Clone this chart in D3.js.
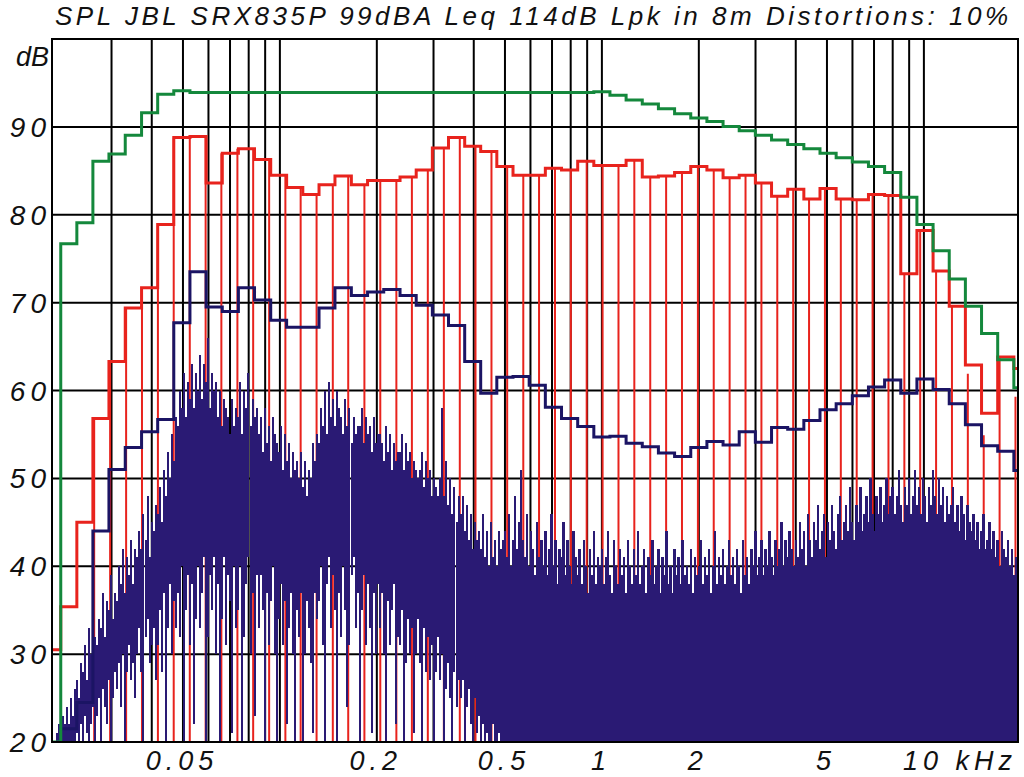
<!DOCTYPE html>
<html><head><meta charset="utf-8">
<script src="https://cdn.jsdelivr.net/npm/d3@7"></script>
<style>html,body{margin:0;padding:0;background:#fff;}svg{display:block;}</style>
</head><body>
<svg id="chart" width="1024" height="777"></svg>
<script>
// ---------------- data ----------------
const titleText = "SPL JBL SRX835P 99dBA Leq 114dB Lpk in 8m Distortions: 10%";
const yUnit = "dB";
const yTicks = [20, 30, 40, 50, 60, 70, 80, 90];
const xTickKHz = [0.05, 0.2, 0.5, 1, 2, 5, 10];
const xTickLabels = ["0.05", "0.2", "0.5", "1", "2", "5", "10 kHz"];
const gridHz = [30,40,50,60,70,80,90,100,200,300,400,500,600,700,800,900,
  1000,2000,3000,4000,5000,6000,7000,8000,9000,10000];

// 1/6-octave band centres (Hz)
const bandHz = [19.7,22.1,24.8,27.8,31.2,35.1,39.4,44.2,49.6,55.7,62.5,70.2,78.7,88.4,99.2,
  111,125,140,157,177,198,223,250,281,315,354,397,445,500,561,630,707,794,891,
  1000,1122,1260,1414,1587,1782,2000,2245,2520,2828,3175,3564,4000,4490,5040,5657,
  6350,7127,8000,8980,10079,11314,12699,14254,16000,17959,20159];

const greenDb = [20,76.7,79.1,86.1,86.9,89.05,91.6,93.7,94.1,93.9,
  93.9,93.9,93.9,93.9,93.9,93.9,93.9,93.9,93.9,93.9,
  93.9,93.9,93.9,93.9,93.9,93.9,93.9,93.9,93.9,93.9,
  93.9,93.9,93.9,93.9,94.0,93.6,93.05,92.6,92.05,91.5,
  91.0,90.6,90.05,89.55,89.05,88.5,88.0,87.5,87.0,86.5,
  86.0,85.5,84.8,82.0,78.9,75.9,72.7,69.6,66.5,63.5,60.3];

const redDb = [30.5,35.4,45.0,56.8,63.3,69.4,71.7,78.9,88.8,88.9,
  83.6,87.0,87.5,86.3,84.5,83.1,82.3,83.4,84.4,83.4,
  83.9,83.9,84.3,85.1,87.6,88.8,87.8,87.2,85.5,84.5,
  84.5,85.3,85.1,86.1,85.6,85.6,86.2,84.3,84.4,84.8,
  85.5,85.1,84.2,84.5,83.6,82.1,82.9,81.8,83.0,81.8,
  81.7,82.3,82.2,73.3,78.2,73.6,69.6,62.9,57.4,63.8,62.5];

const blueDb = [null,21.5,24.5,44.0,51.0,53.5,55.3,56.7,67.7,73.5,
  69.5,69.0,71.7,70.3,68.0,67.2,67.2,69.4,71.7,70.8,
  71.2,71.5,70.8,69.7,68.6,67.4,63.3,59.7,61.5,61.6,
  60.6,58.1,56.8,55.9,54.7,54.8,54.0,53.6,52.9,52.5,
  53.5,54.2,53.8,55.3,54.1,55.8,55.6,56.6,57.8,58.5,
  59.4,60.4,61.2,59.7,61.3,60.1,58.5,56.1,53.7,53.1,50.9];

const toneHz = [26.5,29.7,33.3,37.3,41.8,46.8,52.5,58.8,65.8,73.8,82.6,92.6,104,116,130,146,163,183,205,230,
  257,288,323,362,405,454,508,570,638,715,801,897,1005,1126,1261,1413,1583,1773,1987,2225,
  2493,2793,3129,3505,3927,4399,4928,5521,6185,6929,7762,8696,9739,10911,12222,13692,15338,17183,19250];
const toneDb = [56.8,63.3,69.4,71.7,78.9,88.8,88.9,88.9,87.0,87.5,
  87.5,86.3,84.5,83.1,82.3,83.4,84.4,83.4,83.9,83.9,
  84.3,85.1,87.6,88.8,87.8,87.2,85.5,84.5,84.5,85.3,
  85.1,86.1,85.6,85.6,86.2,84.3,84.4,84.8,85.5,85.1,
  84.2,84.5,83.6,82.1,82.9,81.8,83.0,81.8,81.7,82.3,
  82.2,73.3,78.2,73.6,69.6,61.9,54.9,63.8,59.3];

// FFT spectrum, low part: per display column max / min level
const specLowHz = [20.26,20.56,20.86,21.16,21.47,21.78,22.10,22.42,22.75,23.08,23.41,23.75,24.10,24.45,24.80,25.16,25.53,25.90,26.28,26.66,27.05,27.44,27.84,28.25,28.66,29.07,29.50,29.92,30.36,30.80,
  31.25,31.70,32.17,32.63,33.11,33.59,34.08,34.58,35.08,35.59,36.11,36.63,37.16,37.70,38.25,38.81,39.37,39.95,40.53,41.12,41.71,42.32,42.94,43.56,44.19,44.84,45.49,46.15,46.82,47.50,48.19,48.90,49.61,50.33,51.06,51.80,52.56,53.32,54.10,54.88,55.68,56.49,57.31,58.15,58.99,59.85,60.72,61.60,
  62.50,63.41,64.33,65.27,66.22,67.18,68.16,69.15,70.16,71.18,72.21,73.26,74.33,75.41,76.51,77.62,78.74,79.89,81.05,82.23,83.43,84.64,85.88,87.13,88.39,89.68,90.98,92.30,93.64,95.01,96.39,97.79,99.21,100.7,102.1,103.6,105.1,106.6,108.2,109.8,111.4,113.0,114.6,116.3,118.0,119.7,121.4,123.2,
  125.0,126.8,128.7,130.5,132.4,134.4,136.3,138.3,140.3,142.4,144.4,146.5,148.7,150.8,153.0,155.2,157.5,159.8,162.1,164.5,166.9,169.3,171.8,174.3,176.8,179.4,182.0,184.6,187.3,190.0,192.8,195.6,198.4,201.3,204.2,207.2,210.2,213.3,216.4,219.5,222.7,226.0,229.3,232.6,236.0,239.4,242.9,246.4,
  250.0,253.6,257.3,261.1,264.9,268.7,272.6,276.6,280.6,284.7,288.9,293.0,297.3,301.6,306.0,310.5,315.0,319.6,324.2,328.9,333.7,338.6,343.5,348.5,353.6,358.7,363.9,369.2,374.6,380.1,385.6,391.2,396.9,402.7,408.5,414.4,420.4,426.5,432.8,439.1,445.4,451.9,458.5,465.2,471.9,478.8,485.8,492.8];
const specLowTop = [21,22,21,23,22,24,22,25,23,26, 27,25,29,28,31,27,33,30,35,32,
  31,34,33,37,32,36,35,39,34,37, 36,40,38,42,37,41,39,43,38,42,
  41,44,42,46,43,48,41,45,44,47, 46,49,45,51,48,53,50,55,52,57,
  56,60,58,62,57,61,59,63,58,62, 60,64,59,63,61,66,58,62,60,61,
  57,60,56,59,58,57,55,59,56,58, 57,61,55,60,58,62,56,59,57,58,
  55,57,53,58,54,56,52,57,55,54, 53,56,51,55,52,54,50,53,51,52,
  50,53,49,52,48,51,50,54,52,55, 54,58,56,60,55,61,57,59,56,60,
  58,57,55,59,56,58,54,57,55,56, 56,58,54,57,55,56,53,57,54,55,
  55,54,52,56,53,55,51,54,52,53, 53,55,51,54,52,53,50,52,51,50,
  51,53,49,52,50,51,48,50,49,48, 50,58,48,52,47,50,46,49,45,48,
  46,48,44,47,43,46,42,45,43,44, 42,46,41,44,40,45,41,43,40,44,42,43];
const specLowBot = [20,20,20,20,20,20,20,20,20,20, 21,20,22,20,23,21,20,22,24,20,
  23,25,20,26,24,22,27,20,25,28, 26,29,24,30,20,28,31,27,29,25,
  30,33,28,20,32,34,29,31,33,27, 31,35,28,37,20,33,38,30,36,33,
  37,32,40,20,35,39,31,38,22,34, 40,33,37,41,20,32,39,35,41,30,
  38,20,34,41,31,39,36,21,40,33, 35,40,20,32,38,41,30,37,23,39,
  33,39,35,20,37,31,36,40,30,20, 34,38,31,36,22,33,37,30,20,35,
  32,37,20,30,36,33,29,21,37,34, 36,40,31,20,38,41,33,39,35,20,
  37,32,40,35,24,31,39,41,33,37, 20,35,39,31,38,33,21,37,30,38,
  33,37,30,20,36,31,35,38,22,32, 31,35,20,29,34,30,33,21,30,34,
  29,20,33,28,32,27,31,20,28,32, 27,30,20,26,29,25,20,28,24,27,
  25,27,20,24,26,22,20,25,21,23, 20,22,20,21,20,20,22,20,20,21,20,20];
// FFT spectrum, high part: per display column max level (dense bins reach the floor)
const specHighHz = [500.0,507.3,514.7,522.2,529.7,537.5,545.3,553.2,561.2,569.4,577.7,586.1,594.6,603.2,612.0,620.9,630.0,639.1,648.4,657.8,667.4,677.1,687.0,697.0,707.1,717.4,727.8,738.4,749.2,760.1,771.1,782.3,793.7,805.2,817.0,828.8,840.9,853.1,865.6,878.2,890.9,903.9,917.0,930.3,943.9,957.6,971.6,985.7,
  1000,1015,1029,1044,1059,1075,1091,1106,1122,1139,1155,1172,1189,1207,1224,1242,1260,1278,1297,1316,1335,1354,1374,1394,1414,1435,1456,1477,1498,1520,1542,1565,1587,1611,1634,1658,1682,1706,1731,1756,1782,1808,1834,1861,1888,1915,1943,1971,
  2000,2029,2059,2089,2119,2150,2181,2213,2245,2278,2311,2344,2378,2413,2448,2484,2520,2557,2594,2631,2670,2709,2748,2788,2828,2870,2911,2954,2997,3040,3084,3129,3175,3221,3268,3315,3364,3413,3462,3513,3564,3615,3668,3721,3775,3830,3886,3943,
  4000,4058,4117,4177,4238,4300,4362,4426,4490,4555,4622,4689,4757,4826,4896,4967,5040,5113,5187,5263,5339,5417,5496,5576,5657,5739,5823,5907,5993,6080,6169,6259,6350,6442,6536,6631,6727,6825,6924,7025,7127,7231,7336,7443,7551,7661,7772,7885,
  8000,8116,8234,8354,8476,8599,8724,8851,8980,9110,9243,9378,9514,9652,9793,9935,10079,10226,10375,10525,10679,10834,10992,11152,11314,11479,11646,11815,11987,12161,12338,12518,12699,12884,13071,13261,13454,13650,13849,14050,14254,14462,14672,14885,15102,15322,15544,15770,
  16000,16232,16469,16708,16951,17198,17448,17702,17959,18220,18486,18754,19027,19304,19585,19869,20159];
const specHighTop = [44,41,46,40,43,48,42,45,51,43, 41,46,40,44,42,39,45,41,43,40,
  44,39,42,46,40,43,38,42,41,45, 39,43,40,38,44,41,39,42,38,43, 40,37,42,39,44,38,41,40,
  42,38,41,44,39,37,43,40,38,42, 39,41,37,43,40,38,42,39,44,38, 40,42,37,41,39,43,38,40,42,37,
  41,39,44,38,40,37,42,39,41,38, 43,39,40,38,42,37,41,39,
  40,43,38,41,39,42,37,40,44,38, 41,39,42,38,40,43,39,41,38,42, 40,37,43,39,41,38,42,40,44,39,
  41,43,39,42,40,44,41,39,43,40, 42,45,40,43,41,44,42,40,
  43,41,45,42,44,40,46,43,41,45, 43,47,42,44,46,41,45,43,47,44, 42,46,48,43,45,47,44,49,45,43,
  47,45,49,44,46,48,45,50,46,44, 48,46,49,45,47,50,46,48,
  49,46,48,51,47,45,49,47,50,46, 48,51,47,49,46,50,48,45,49,47, 51,48,46,50,47,49,45,48,46,47,
  49,45,47,44,48,46,43,47,45,44, 46,43,45,42,44,46,42,43,
  45,42,44,41,43,40,44,42,41,43, 40,42,39,41,43,40,41];

// ---------------- drawing ----------------
const svg = d3.select("#chart");
const L = 52, R = 1018, T = 39, B = 742;
const x = d3.scaleLog().domain([19.6, 19600]).range([L, R]);
const y = d3.scaleLinear().domain([20, 100]).range([B, T]);

const colGreen = "#14883c", colRed = "#e8231d", colBlue = "#1b1464", colSpec = "#2a1a74";

svg.append("defs").append("clipPath").attr("id", "clip")
  .append("rect").attr("x", L).attr("y", T).attr("width", R - L).attr("height", B - T);
const plot = svg.append("g").attr("clip-path", "url(#clip)");

plot.append("g").selectAll("line").data(gridHz).join("line")
  .attr("x1", d => x(d)).attr("x2", d => x(d)).attr("y1", T).attr("y2", B)
  .attr("stroke", "#000").attr("stroke-width", 2);
plot.append("g").selectAll("line").data(yTicks.filter(v => v > 20)).join("line")
  .attr("x1", L).attr("x2", R).attr("y1", d => y(d)).attr("y2", d => y(d))
  .attr("stroke", "#000").attr("stroke-width", 2);

plot.append("g").selectAll("line").data(toneHz).join("line")
  .attr("x1", d => x(d)).attr("x2", d => x(d))
  .attr("y1", y(20)).attr("y2", (d, i) => y(toneDb[i]))
  .attr("stroke", colRed).attr("stroke-width", 2);

// spectrum columns
plot.append("g").attr("shape-rendering", "crispEdges").selectAll("line").data(specLowHz).join("line")
  .attr("x1", d => x(d)).attr("x2", d => x(d))
  .attr("y1", (d, i) => y(specLowBot[i])).attr("y2", (d, i) => y(specLowTop[i]))
  .attr("stroke", colSpec).attr("stroke-width", 2);
plot.append("g").attr("shape-rendering", "crispEdges").selectAll("line").data(specHighHz).join("line")
  .attr("x1", d => x(d)).attr("x2", d => x(d))
  .attr("y1", y(20)).attr("y2", (d, i) => y(specHighTop[i]))
  .attr("stroke", colSpec).attr("stroke-width", 2.4);

function bandPoints(vals) {
  const n = bandHz.length, pts = [];
  vals.forEach((v, i) => {
    if (v == null) return;
    const lo = i > 0 ? Math.sqrt(bandHz[i - 1] * bandHz[i]) : bandHz[0] * Math.sqrt(bandHz[0] / bandHz[1]);
    const hi = i < n - 1 ? Math.sqrt(bandHz[i] * bandHz[i + 1]) : bandHz[i] * Math.sqrt(bandHz[i] / bandHz[i - 1]);
    pts.push([lo, v], [hi, v]);
  });
  return pts;
}
const stepLine = d3.line().x(d => x(d[0])).y(d => y(d[1]));
plot.append("path").datum(bandPoints(redDb)).attr("d", stepLine)
  .attr("fill", "none").attr("stroke", colRed).attr("stroke-width", 3);
plot.append("path").datum(bandPoints(blueDb)).attr("d", stepLine)
  .attr("fill", "none").attr("stroke", colBlue).attr("stroke-width", 3);
plot.append("path").datum(bandPoints(greenDb)).attr("d", stepLine)
  .attr("fill", "none").attr("stroke", colGreen).attr("stroke-width", 3);

svg.append("rect").attr("x", L).attr("y", T).attr("width", R - L).attr("height", B - T)
  .attr("fill", "none").attr("stroke", "#000").attr("stroke-width", 2);

const fontFam = "'Liberation Sans', Arial, sans-serif";
svg.append("text").text(titleText)
  .attr("x", 55).attr("y", 25).attr("textLength", 953).attr("lengthAdjust", "spacing")
  .attr("font-family", fontFam).attr("font-style", "italic").attr("font-size", 26).attr("fill", "#111");
svg.append("text").text(yUnit).attr("x", 49).attr("y", 66).attr("text-anchor", "end")
  .attr("font-family", fontFam).attr("font-style", "italic").attr("font-size", 27).attr("fill", "#111");
svg.append("g").selectAll("text").data(yTicks).join("text")
  .text(d => d).attr("x", 51).attr("y", d => y(d)).attr("dy", "0.36em").attr("text-anchor", "end")
  .attr("letter-spacing", 5)
  .attr("font-family", fontFam).attr("font-style", "italic").attr("font-size", 28).attr("fill", "#111");
svg.append("g").selectAll("text").data(xTickKHz).join("text")
  .text((d, i) => xTickLabels[i])
  .attr("x", (d, i) => i === xTickKHz.length - 1 ? x(d * 1000) - 21 : x(d * 1000) - 1)
  .attr("y", 770)
  .attr("text-anchor", (d, i) => i === xTickKHz.length - 1 ? "start" : "middle")
  .attr("letter-spacing", 5)
  .attr("font-family", fontFam).attr("font-style", "italic").attr("font-size", 27).attr("fill", "#111");
</script>
</body></html>
